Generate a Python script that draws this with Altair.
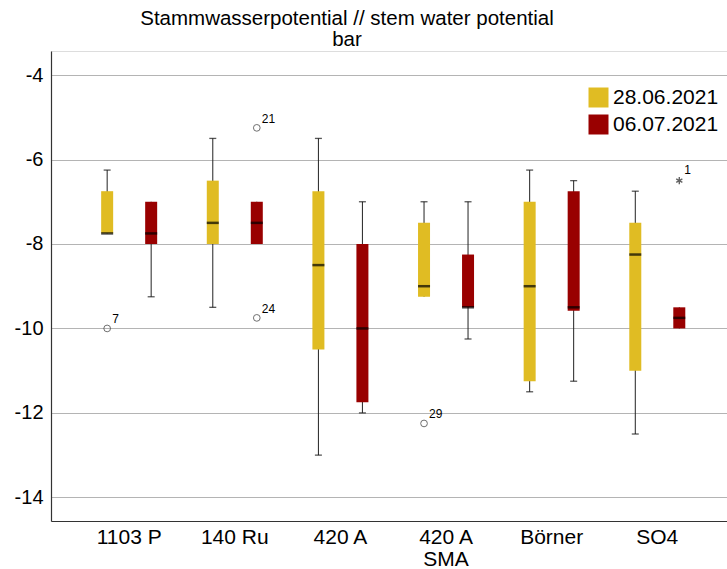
import altair as alt
import pandas as pd

categories = ["1103 P", "140 Ru", "420 A", "420 A SMA", "Börner", "SO4"]
dates = ["28.06.2021", "06.07.2021"]
colors = ["#E0BC23", "#990000"]

# per category, per date (28.06 first, then 06.07)
whisker_low = [-7.75, -9.25, -9.5, -8.0, -13.0, -12.0, -9.25, -10.25, -11.5, -11.25, -12.5, -10.0]
q1 = [-7.75, -8.0, -8.0, -8.0, -10.5, -11.75, -9.25, -9.5, -11.25, -9.58, -11.0, -10.0]
median = [-7.75, -7.75, -7.5, -7.5, -8.5, -10.0, -9.0, -9.5, -9.0, -9.5, -8.25, -9.75]
q3 = [-6.75, -7.0, -6.5, -7.0, -6.75, -8.0, -7.5, -8.25, -7.0, -6.75, -7.5, -9.5]
whisker_high = [-6.25, -7.0, -5.5, -7.0, -5.5, -7.0, -7.0, -7.0, -6.25, -6.5, -6.75, -9.5]

out_cat = ["1103 P", "140 Ru", "140 Ru", "420 A SMA"]
out_date = ["28.06.2021", "06.07.2021", "06.07.2021", "28.06.2021"]
out_val = [-10.0, -5.25, -9.75, -12.25]
out_label = ["7", "21", "24", "29"]

ext_cat = ["SO4"]
ext_date = ["06.07.2021"]
ext_val = [-6.5]
ext_label = ["1"]

rows = []
i = 0
for c in categories:
    for d in dates:
        rows.append(dict(cat=c, date=d, lo=whisker_low[i], q1=q1[i], med=median[i],
                         q3=q3[i], hi=whisker_high[i]))
        i += 1
box = pd.DataFrame(rows)
outl = pd.DataFrame(dict(cat=out_cat, date=out_date, val=out_val, label=out_label))
ext = pd.DataFrame(dict(cat=ext_cat, date=ext_date, val=ext_val, label=ext_label))

FONT = "Liberation Sans"

x_enc = alt.X("cat:N", sort=categories, title=None,
              scale=alt.Scale(paddingInner=0, paddingOuter=0.2, align=0.6),
              axis=alt.Axis(labelFontSize=21, labelFont=FONT, labelColor="#000",
                            labelAngle=0, ticks=False, labelPadding=5,
                            labelLineHeight=22, labelBaseline="top",
                            labelExpr="datum.label == '420 A SMA' ? ['420 A', 'SMA'] : datum.label",
                            domainColor="#333", domainWidth=1.2, grid=False))
xo_enc = alt.XOffset("date:N", sort=dates,
                     scale=alt.Scale(paddingInner=0, paddingOuter=0.2))
y_scale = alt.Scale(domain=[-14.56, -3.43], nice=False, zero=False)
y_axis = alt.Axis(values=[-4, -6, -8, -10, -12, -14], labelFontSize=20, labelFont=FONT,
                  labelColor="#000", ticks=False, labelPadding=8, grid=True,
                  labelExpr="toString(datum.value)",
                  gridColor="#b4b4b4", gridWidth=1, domainColor="#333", domainWidth=1.2,
                  title=None)

base = alt.Chart(box).encode(x=x_enc, xOffset=xo_enc)

whisk = base.mark_rule(color="#222", strokeWidth=1).encode(
    y=alt.Y("lo:Q", scale=y_scale, axis=y_axis), y2="hi:Q")

caps_lo = base.transform_filter("datum.lo < datum.q1").mark_tick(
    orient="horizontal", size=7, thickness=1.3, color="#111").encode(
    y=alt.Y("lo:Q", scale=y_scale))
caps_hi = base.transform_filter("datum.hi > datum.q3").mark_tick(
    orient="horizontal", size=7, thickness=1.3, color="#111").encode(
    y=alt.Y("hi:Q", scale=y_scale))

bars = base.mark_bar(size=12).encode(
    y=alt.Y("q1:Q", scale=y_scale), y2="q3:Q",
    color=alt.Color("date:N", sort=dates,
                    scale=alt.Scale(domain=dates, range=colors),
                    legend=alt.Legend(title=None, orient="none", legendX=537, legendY=36,
                                      symbolType="square", symbolSize=400,
                                      symbolStrokeWidth=0, symbolOpacity=1,
                                      labelFontSize=21, labelFont=FONT, labelColor="#000",
                                      rowPadding=5, labelOffset=4)))

meds = base.mark_tick(orient="horizontal", size=12, thickness=2.5, color="#000").encode(
    y=alt.Y("med:Q", scale=y_scale))

obase = alt.Chart(outl).encode(x=x_enc, xOffset=xo_enc, y=alt.Y("val:Q", scale=y_scale))
opts = obase.mark_point(shape="circle", size=45, filled=False, color="#333", strokeWidth=1)
olab = obase.mark_text(align="left", baseline="bottom", dx=5, dy=-2, fontSize=12,
                       font=FONT, color="#000").encode(text="label:N")

ebase = alt.Chart(ext).encode(x=x_enc, xOffset=xo_enc, y=alt.Y("val:Q", scale=y_scale))
epts = ebase.mark_point(
    shape="M0,-1L0,1M-0.87,-0.5L0.87,0.5M-0.87,0.5L0.87,-0.5",
    size=50, filled=False, color="#222", strokeWidth=1.4)
elab = ebase.mark_text(align="left", baseline="bottom", dx=5, dy=-4, fontSize=12,
                       font=FONT, color="#000").encode(text="label:N")

chart = alt.layer(whisk, caps_lo, caps_hi, bars, meds, opts, olab, epts, elab).properties(
    width=676, height=470,
    title=alt.TitleParams(text=["Stammwasserpotential // stem water potential", "bar"],
                          fontSize=20.5, font=FONT, fontWeight="normal", color="#000",
                          anchor="middle", dx=-42, offset=1, lineHeight=21),
    autosize=alt.AutoSizeParams(type="none"),
    padding={"left": 51, "top": 51, "right": 0, "bottom": 48},
).configure_view(stroke=None).configure(background="white")

chart.save("out.html", embed_options={"renderer": "svg", "actions": False})
